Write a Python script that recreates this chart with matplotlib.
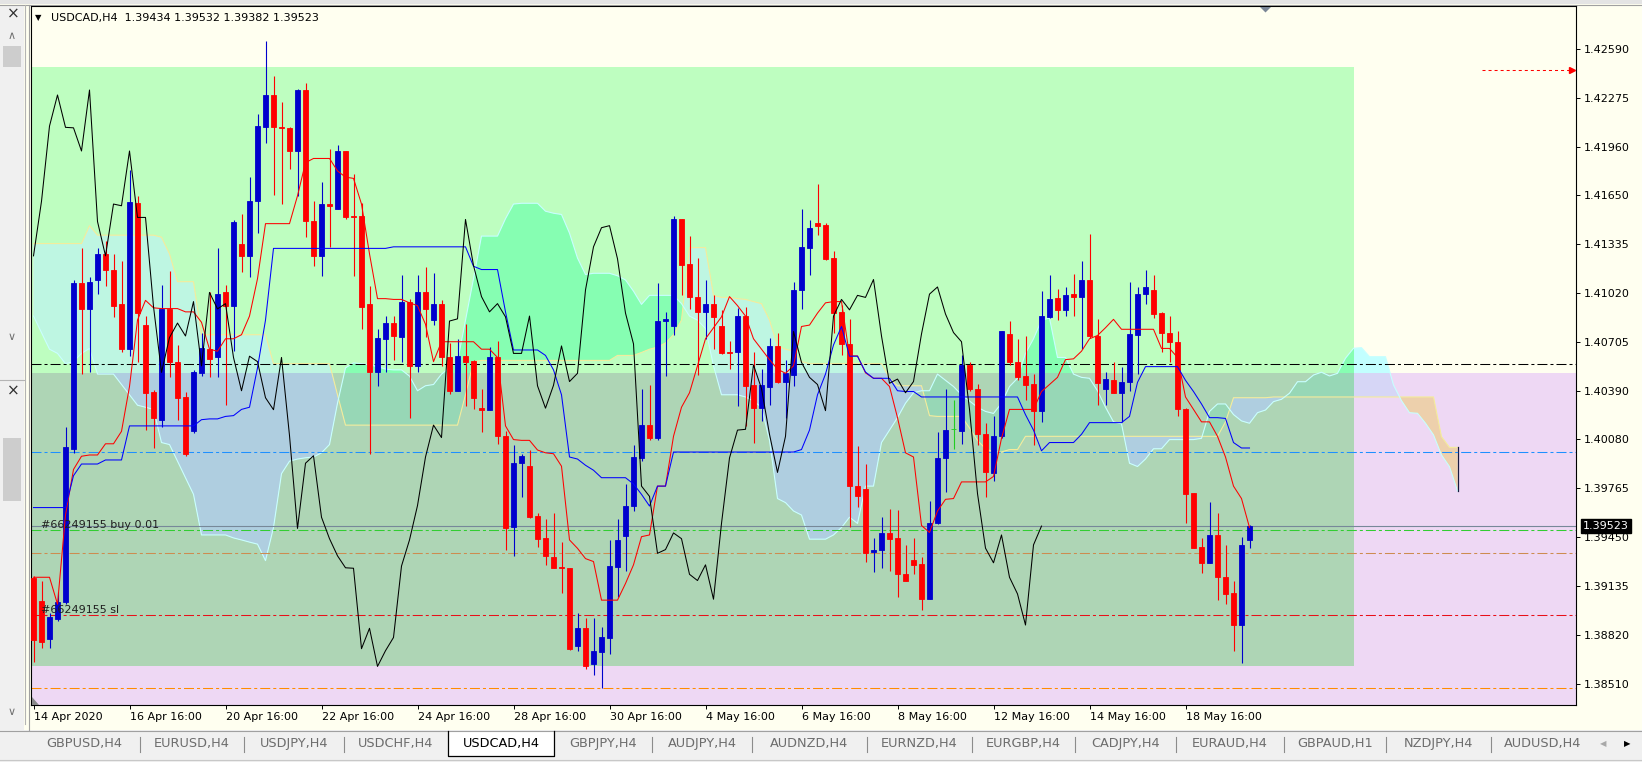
import numpy as np
import matplotlib.pyplot as plt
from matplotlib.patches import Rectangle, Polygon

# ── Data: USDCAD H4, one candle per 4 hours from 14 Apr 2020 16:00 ──────────
symbol = "USDCAD,H4"

opens = [
    1.39190, 1.39040, 1.38799, 1.38927, 1.39034, 1.40020, 1.41086, 1.40921, 1.41108, 1.41273,
    1.41172, 1.40948, 1.40660, 1.41598, 1.40814, 1.40385, 1.40207, 1.40921, 1.40580, 1.40353,
    1.40132, 1.40508, 1.40660, 1.40607, 1.41025, 1.40935, 1.41339, 1.41260, 1.41611, 1.42091,
    1.42294, 1.42091, 1.42080, 1.41934, 1.42326, 1.41481, 1.41260, 1.41593, 1.41561, 1.41934,
    1.41515, 1.41515, 1.40953, 1.40511, 1.40727, 1.40828, 1.40740, 1.40966, 1.40553, 1.41025,
    1.40847, 1.40953, 1.40607, 1.40393, 1.40615, 1.40585, 1.40281, 1.40271, 1.40607, 1.40105,
    1.39514, 1.39927, 1.39908, 1.39588, 1.39447, 1.39327, 1.39260, 1.39252, 1.38754, 1.38866,
    1.38634, 1.38714, 1.38802, 1.39260, 1.39460, 1.39655, 1.39962, 1.40172, 1.40087, 1.40839,
    1.40806, 1.41494, 1.41206, 1.40998, 1.40900, 1.40953, 1.40812, 1.40644, 1.40639, 1.40873,
    1.40428, 1.40281, 1.40420, 1.40681, 1.40452, 1.40495, 1.41038, 1.41313, 1.41473, 1.41459,
    1.41246, 1.40900, 1.40694, 1.39780, 1.39762, 1.39354, 1.39367, 1.39479, 1.39447, 1.39215,
    1.39306, 1.39279, 1.39053, 1.39540, 1.39961, 1.40145, 1.40132, 1.40559, 1.40407, 1.40113,
    1.39866, 1.40100, 1.40758, 1.40580, 1.40487, 1.40439, 1.40265, 1.40868, 1.40988, 1.40913,
    1.41012, 1.40993, 1.41108, 1.40748, 1.40401, 1.40465, 1.40380, 1.40452, 1.40753, 1.41012,
    1.41041, 1.40892, 1.40767, 1.40708, 1.40273, 1.39735, 1.39386, 1.39287, 1.39466, 1.39194,
    1.39093, 1.38887, 1.39434,
]
highs = [
    1.39200, 1.39173, 1.38967, 1.39099, 1.40159, 1.41105, 1.41308, 1.41121, 1.41308, 1.41353,
    1.41273, 1.41228, 1.41811, 1.41646, 1.40873, 1.40399, 1.41073, 1.41161, 1.40687, 1.40388,
    1.40527, 1.40767, 1.41028, 1.41308, 1.41073, 1.41491, 1.41526, 1.41766, 1.42171, 1.42640,
    1.42419, 1.42246, 1.42091, 1.42334, 1.42371, 1.41611, 1.41734, 1.41947, 1.41974, 1.41934,
    1.41787, 1.41601, 1.41065, 1.40793, 1.40873, 1.40873, 1.41140, 1.40980, 1.41140, 1.41188,
    1.41153, 1.40974, 1.40700, 1.40726, 1.40820, 1.40588, 1.40407, 1.40673, 1.40713, 1.40132,
    1.40047, 1.39988, 1.40015, 1.39607, 1.39567, 1.39607, 1.39421, 1.39255, 1.38967, 1.38933,
    1.38933, 1.38874, 1.39434, 1.39567, 1.39794, 1.40047, 1.40407, 1.40433, 1.41086, 1.40900,
    1.41513, 1.41494, 1.41387, 1.41246, 1.41108, 1.41006, 1.40913, 1.40713, 1.40926, 1.40932,
    1.40639, 1.40532, 1.40732, 1.40761, 1.40593, 1.41094, 1.41561, 1.41491, 1.41721, 1.41473,
    1.41292, 1.40945, 1.40854, 1.40041, 1.39919, 1.39447, 1.39580, 1.39634, 1.39626, 1.39402,
    1.39447, 1.39322, 1.39687, 1.40127, 1.40407, 1.40332, 1.40625, 1.40580, 1.40439, 1.40185,
    1.40233, 1.40780, 1.40841, 1.40727, 1.40748, 1.40500, 1.41033, 1.41140, 1.41046, 1.41060,
    1.41145, 1.41228, 1.41401, 1.40852, 1.40513, 1.40580, 1.40548, 1.41092, 1.41060, 1.41166,
    1.41140, 1.40900, 1.40873, 1.40780, 1.40281, 1.39735, 1.39447, 1.39679, 1.39607, 1.39402,
    1.39167, 1.39455, 1.39532,
]
lows = [
    1.38650, 1.38741, 1.38741, 1.38914, 1.39021, 1.39994, 1.40500, 1.40511, 1.41014, 1.41065,
    1.40865, 1.40639, 1.40615, 1.40580, 1.40140, 1.40025, 1.40159, 1.40479, 1.40202, 1.39975,
    1.40121, 1.40487, 1.40479, 1.40484, 1.40300, 1.40646, 1.41158, 1.41121, 1.41406, 1.41987,
    1.41651, 1.41593, 1.41819, 1.41646, 1.41380, 1.41193, 1.41132, 1.41318, 1.41561, 1.41499,
    1.41132, 1.40788, 1.39988, 1.40425, 1.40511, 1.40593, 1.40580, 1.40220, 1.40511, 1.40740,
    1.40815, 1.40553, 1.40375, 1.40393, 1.40292, 1.40274, 1.40127, 1.40271, 1.40052, 1.39367,
    1.39333, 1.39708, 1.39575, 1.39389, 1.39274, 1.39255, 1.39093, 1.38727, 1.38722, 1.38607,
    1.38568, 1.38482, 1.38701, 1.39066, 1.39234, 1.39620, 1.39940, 1.40074, 1.40079, 1.40487,
    1.40753, 1.41006, 1.40921, 1.40492, 1.40727, 1.40660, 1.40628, 1.40532, 1.40295, 1.40167,
    1.40060, 1.40201, 1.40300, 1.40441, 1.40220, 1.40425, 1.40921, 1.41134, 1.41393, 1.41233,
    1.40767, 1.40625, 1.39514, 1.39647, 1.39295, 1.39226, 1.39252, 1.39234, 1.39066, 1.39167,
    1.39213, 1.38981, 1.39053, 1.39535, 1.39740, 1.40020, 1.40052, 1.40393, 1.40047, 1.39708,
    1.39812, 1.40087, 1.40559, 1.40460, 1.40335, 1.40047, 1.40193, 1.40860, 1.40847, 1.40873,
    1.40873, 1.40660, 1.40735, 1.40300, 1.40300, 1.40380, 1.40193, 1.40393, 1.40500, 1.40953,
    1.40860, 1.40639, 1.40580, 1.40233, 1.39540, 1.39381, 1.39221, 1.39287, 1.39047, 1.39021,
    1.38722, 1.38640, 1.39382,
]
closes = [
    1.38790, 1.38781, 1.38941, 1.39034, 1.40034, 1.41086, 1.40919, 1.41092, 1.41273, 1.41172,
    1.40940, 1.40660, 1.41606, 1.40892, 1.40377, 1.40215, 1.40921, 1.40575, 1.40348, 1.39988,
    1.40513, 1.40665, 1.40599, 1.41014, 1.40935, 1.41479, 1.41260, 1.41611, 1.42094, 1.42294,
    1.42086, 1.42083, 1.41934, 1.42326, 1.41481, 1.41260, 1.41593, 1.41582, 1.41934, 1.41507,
    1.41507, 1.40934, 1.40511, 1.40735, 1.40828, 1.40745, 1.40966, 1.40553, 1.41025, 1.40919,
    1.40953, 1.40607, 1.40393, 1.40615, 1.40580, 1.40348, 1.40271, 1.40607, 1.40105, 1.39508,
    1.39927, 1.39975, 1.39580, 1.39442, 1.39332, 1.39255, 1.39252, 1.38735, 1.38866, 1.38621,
    1.38722, 1.38807, 1.39266, 1.39434, 1.39655, 1.39967, 1.40172, 1.40092, 1.40841, 1.40855,
    1.41494, 1.41198, 1.40998, 1.40900, 1.40953, 1.40868, 1.40633, 1.40633, 1.40873, 1.40425,
    1.40281, 1.40428, 1.40681, 1.40452, 1.40505, 1.41041, 1.41318, 1.41441, 1.41454, 1.41241,
    1.40892, 1.40694, 1.39780, 1.39714, 1.39348, 1.39372, 1.39479, 1.39442, 1.39213, 1.39173,
    1.39274, 1.39053, 1.39540, 1.39961, 1.40140, 1.40145, 1.40559, 1.40407, 1.40113, 1.39868,
    1.40100, 1.40774, 1.40575, 1.40479, 1.40433, 1.40265, 1.40873, 1.40980, 1.40913, 1.41006,
    1.40993, 1.41108, 1.40745, 1.40441, 1.40468, 1.40380, 1.40452, 1.40758, 1.41014, 1.41060,
    1.40886, 1.40767, 1.40708, 1.40273, 1.39732, 1.39381, 1.39287, 1.39466, 1.39194, 1.39087,
    1.38887, 1.39402, 1.39523,
]

# Ichimoku lines
tenkan = [
    1.39194, 1.39194, 1.39194, 1.39021, 1.39594, 1.39887, 1.39972, 1.39980, 1.39980, 1.40052,
    1.40052, 1.40132, 1.40420, 1.40847, 1.40974, 1.40926, 1.40921, 1.40921, 1.40921, 1.40900,
    1.40900, 1.40833, 1.40660, 1.40647, 1.40727, 1.40727, 1.40753, 1.40873, 1.41113, 1.41467,
    1.41467, 1.41467, 1.41467, 1.41646, 1.41859, 1.41886, 1.41886, 1.41886, 1.41806, 1.41766,
    1.41758, 1.41593, 1.41273, 1.40985, 1.40985, 1.40980, 1.40980, 1.40958, 1.40940, 1.40820,
    1.40580, 1.40708, 1.40708, 1.40708, 1.40708, 1.40708, 1.40660, 1.40660, 1.40607, 1.40167,
    1.40079, 1.40074, 1.40074, 1.40012, 1.39994, 1.39988, 1.39908, 1.39434, 1.39380, 1.39314,
    1.39295, 1.39047, 1.39047, 1.39047, 1.39154, 1.39274, 1.39455, 1.39466, 1.39780, 1.39780,
    1.40100, 1.40287, 1.40380, 1.40553, 1.40727, 1.40798, 1.40868, 1.40998, 1.40940, 1.40873,
    1.40727, 1.40660, 1.40593, 1.40532, 1.40505, 1.40553, 1.40806, 1.40815, 1.40892, 1.40958,
    1.40966, 1.40966, 1.40617, 1.40617, 1.40508, 1.40473, 1.40473, 1.40420, 1.40220, 1.39994,
    1.39967, 1.39527, 1.39482, 1.39620, 1.39695, 1.39700, 1.39807, 1.39807, 1.39807, 1.39807,
    1.39842, 1.40087, 1.40273, 1.40273, 1.40273, 1.40273, 1.40388, 1.40433, 1.40479, 1.40593,
    1.40598, 1.40647, 1.40727, 1.40748, 1.40798, 1.40852, 1.40788, 1.40788, 1.40788, 1.40788,
    1.40788, 1.40665, 1.40665, 1.40607, 1.40353, 1.40273, 1.40193, 1.40193, 1.40100, 1.39967,
    1.39780, 1.39700, 1.39514,
]
kijun = [
    1.39642, 1.39642, 1.39642, 1.39642, 1.39642, 1.39847, 1.39922, 1.39922, 1.39922, 1.39948,
    1.39948, 1.39948, 1.40167, 1.40167, 1.40167, 1.40167, 1.40167, 1.40167, 1.40167, 1.40167,
    1.40167, 1.40207, 1.40212, 1.40212, 1.40228, 1.40233, 1.40273, 1.40287, 1.40540, 1.40847,
    1.41308, 1.41308, 1.41308, 1.41308, 1.41308, 1.41308, 1.41308, 1.41308, 1.41308, 1.41308,
    1.41308, 1.41308, 1.41308, 1.41308, 1.41308, 1.41318, 1.41318, 1.41318, 1.41318, 1.41318,
    1.41318, 1.41318, 1.41318, 1.41318, 1.41318, 1.41193, 1.41172, 1.41172, 1.41172, 1.40900,
    1.40655, 1.40655, 1.40655, 1.40655, 1.40620, 1.40527, 1.40367, 1.39967, 1.39954, 1.39914,
    1.39882, 1.39834, 1.39834, 1.39834, 1.39834, 1.39794, 1.39727, 1.39652, 1.39780, 1.39780,
    1.39999, 1.39999, 1.39999, 1.39999, 1.39999, 1.39999, 1.39999, 1.39999, 1.39999, 1.39999,
    1.39999, 1.39999, 1.39999, 1.39999, 1.39999, 1.39999, 1.40015, 1.40140, 1.40367, 1.40500,
    1.40687, 1.40806, 1.40615, 1.40615, 1.40513, 1.40473, 1.40473, 1.40473, 1.40393, 1.40388,
    1.40388, 1.40353, 1.40353, 1.40353, 1.40353, 1.40353, 1.40353, 1.40353, 1.40353, 1.40353,
    1.40353, 1.40353, 1.40353, 1.40353, 1.40239, 1.40140, 1.40007, 1.40060, 1.40060, 1.40060,
    1.40060, 1.40113, 1.40188, 1.40188, 1.40188, 1.40188, 1.40188, 1.40228, 1.40447, 1.40548,
    1.40548, 1.40548, 1.40548, 1.40548, 1.40460, 1.40388, 1.40308, 1.40220, 1.40220, 1.40215,
    1.40060, 1.40025, 1.40025,
]
# cloud edges, running 26 bars past the last candle
span_a = [
    1.41339, 1.41339, 1.41339, 1.41339, 1.41339, 1.41339, 1.41339, 1.41454, 1.41393, 1.41393,
    1.41393, 1.41393, 1.41393, 1.41393, 1.41393, 1.41393, 1.41380, 1.41273, 1.41094, 1.41094,
    1.41094, 1.40753, 1.40753, 1.40753, 1.40753, 1.40753, 1.40753, 1.40753, 1.40753, 1.40753,
    1.40567, 1.40567, 1.40567, 1.40567, 1.40567, 1.40567, 1.40567, 1.40567, 1.40367, 1.40172,
    1.40172, 1.40172, 1.40172, 1.40172, 1.40172, 1.40172, 1.40172, 1.40172, 1.40172, 1.40172,
    1.40172, 1.40172, 1.40172, 1.40172, 1.40367, 1.40580, 1.40588, 1.40588, 1.40588, 1.40588,
    1.40588, 1.40588, 1.40588, 1.40588, 1.40588, 1.40588, 1.40588, 1.40588, 1.40588, 1.40588,
    1.40588, 1.40588, 1.40588, 1.40620, 1.40620, 1.40620, 1.40639, 1.40660, 1.40673, 1.40700,
    1.40753, 1.40847, 1.41313, 1.41313, 1.41313, 1.41006, 1.40993, 1.40993, 1.40985, 1.40980,
    1.40966, 1.40953, 1.40847, 1.40681, 1.40660, 1.40647, 1.40580, 1.40567, 1.40567, 1.40567,
    1.40567, 1.40567, 1.40567, 1.40567, 1.40567, 1.40567, 1.40567, 1.40473, 1.40425, 1.40425,
    1.40425, 1.40425, 1.40233, 1.40228, 1.40228, 1.40228, 1.40228, 1.40154, 1.40074, 1.40020,
    1.39999, 1.39999, 1.40015, 1.40015, 1.40100, 1.40100, 1.40100, 1.40100, 1.40100, 1.40100,
    1.40100, 1.40100, 1.40100, 1.40100, 1.40100, 1.40100, 1.40100, 1.40100, 1.40100, 1.40100,
    1.40100, 1.40100, 1.40100, 1.40100, 1.40100, 1.40100, 1.40100, 1.40100, 1.40100, 1.40193,
    1.40348, 1.40348, 1.40348, 1.40348, 1.40348, 1.40353, 1.40353, 1.40353, 1.40353, 1.40353,
    1.40353, 1.40353, 1.40353, 1.40353, 1.40353, 1.40353, 1.40353, 1.40353, 1.40353, 1.40353,
    1.40353, 1.40353, 1.40353, 1.40353, 1.40353, 1.40353, 1.40098, 1.40029, 1.40029,
]
span_b = [
    1.40873, 1.40767, 1.40660, 1.40633, 1.40567, 1.40580, 1.40633, 1.40665, 1.40500, 1.40500,
    1.40500, 1.40433, 1.40367, 1.40300, 1.40287, 1.40273, 1.40060, 1.40047, 1.39940, 1.39834,
    1.39727, 1.39466, 1.39466, 1.39466, 1.39466, 1.39447, 1.39434, 1.39420, 1.39407, 1.39301,
    1.39514, 1.39860, 1.39940, 1.39954, 1.39962, 1.39967, 1.39994, 1.40047, 1.40313, 1.40540,
    1.40572, 1.40567, 1.40559, 1.40548, 1.40532, 1.40527, 1.40527, 1.40487, 1.40393, 1.40425,
    1.40433, 1.40500, 1.40540, 1.40580, 1.40847, 1.41113, 1.41387, 1.41387, 1.41387, 1.41499,
    1.41593, 1.41598, 1.41598, 1.41598, 1.41547, 1.41534, 1.41526, 1.41406, 1.41246, 1.41140,
    1.41148, 1.41148, 1.41148, 1.41132, 1.41105, 1.41033, 1.40948, 1.41006, 1.41006, 1.41006,
    1.41006, 1.40953, 1.40873, 1.40847, 1.40793, 1.40553, 1.40367, 1.40367, 1.40367, 1.40353,
    1.40327, 1.40287, 1.40074, 1.39700, 1.39674, 1.39620, 1.39594, 1.39439, 1.39439, 1.39439,
    1.39466, 1.39514, 1.39580, 1.39540, 1.39780, 1.39780, 1.40060, 1.40140, 1.40220, 1.40313,
    1.40380, 1.40393, 1.40393, 1.40500, 1.40460, 1.40420, 1.40367, 1.40327, 1.40287, 1.40260,
    1.40247, 1.40313, 1.40420, 1.40473, 1.40633, 1.40727, 1.40847, 1.40860, 1.40607, 1.40607,
    1.40500, 1.40479, 1.40473, 1.40393, 1.40287, 1.40193, 1.40180, 1.39927, 1.39906, 1.39954,
    1.40020, 1.40020, 1.40079, 1.40079, 1.40079, 1.40079, 1.40087, 1.40260, 1.40308, 1.40308,
    1.40240, 1.40199, 1.40184, 1.40252, 1.40269, 1.40323, 1.40338, 1.40377, 1.40451, 1.40451,
    1.40494, 1.40512, 1.40488, 1.40505, 1.40602, 1.40666, 1.40670, 1.40612, 1.40612, 1.40612,
    1.40430, 1.40329, 1.40252, 1.40248, 1.40184, 1.40109, 1.39980, 1.39905, 1.39749,
]

date_bars = [0, 12, 24, 36, 48, 60, 72, 84, 96, 108, 120, 132, 144]
date_labels = ["14 Apr 2020", "16 Apr 16:00", "20 Apr 16:00", "22 Apr 16:00",
               "24 Apr 16:00", "28 Apr 16:00", "30 Apr 16:00", "4 May 16:00",
               "6 May 16:00", "8 May 16:00", "12 May 16:00", "14 May 16:00",
               "18 May 16:00"]
price_ticks = [1.42590, 1.42275, 1.41960, 1.41650, 1.41335, 1.41020, 1.40705,
               1.40390, 1.40080, 1.39765, 1.39450, 1.39135, 1.38820, 1.38510]

# drawn objects on the chart
green_box_right = 165.06          # bar index of the rectangle's right side
green_box_top = 1.42474
green_box_bottom = 1.38624
pink_box_top = 1.40507
levels = [(1.40565, "#000000"), (1.39997, "#1E90FF"),
          (1.39348, "#CD8C50"), (1.38480, "#FF8C00")]
order_id = "#66249155"
order_open = 1.39496
order_sl = 1.38949
alert_price = 1.42455
alert_bars = [181.0, 192.3]

tabs = ["GBPUSD,H4", "EURUSD,H4", "USDJPY,H4", "USDCHF,H4", "USDCAD,H4",
        "GBPJPY,H4", "AUDJPY,H4", "AUDNZD,H4", "EURNZD,H4", "EURGBP,H4",
        "CADJPY,H4", "EURAUD,H4", "GBPAUD,H1", "NZDJPY,H4", "AUDUSD,H4"]
active_tab = "USDCAD,H4"

# ── Figure / window layout (pixels) ───────────────────────────────────────────
plt.rcParams["font.family"] = ["DejaVu Sans"]
W, H = 1642, 762
fig = plt.figure(figsize=(W / 100, H / 100), dpi=100)
fig.patch.set_facecolor("#FFFFF0")

PL, PT, PR, PB = 31, 6, 1576, 705      # plot frame
BAR_PX, BAR0_PX = 8, 33.5               # bar spacing, first bar centre

ax = fig.add_axes([PL / W, 1 - PB / H, (PR - PL) / W, (PB - PT) / H])
ax.set_zorder(2)
xlo = (PL - BAR0_PX) / BAR_PX
xhi = (PR - BAR0_PX) / BAR_PX
ax.set_xlim(xlo, xhi)
ax.set_ylim(1.38373, 1.42866)
ax.set_facecolor("#FFFFF0")

GREEN, PINK, OVERLAP = "#BEFEC0", "#EED8F4", "#AED5B5"
ax.add_patch(Rectangle((xlo - 5, 1.37), xhi - xlo + 10, pink_box_top - 1.37,
                       fc=PINK, ec="none", zorder=0.2))
ax.add_patch(Rectangle((xlo - 5, green_box_bottom), green_box_right - xlo + 5,
                       green_box_top - green_box_bottom, fc=GREEN, ec="none", zorder=0.3))
ax.add_patch(Rectangle((xlo - 5, green_box_bottom), green_box_right - xlo + 5,
                       pink_box_top - green_box_bottom, fc=OVERLAP, ec="none", zorder=0.4))

# ── Ichimoku cloud, coloured by what lies under it ───────────────────────────
a = np.array(span_a)
b = np.array(span_b)
xs = np.arange(len(a))
gx = green_box_right
zones = [
    (None, "#FFF0D8", "#C2FFFF"),
    ([(xlo - 5, pink_box_top, gx, green_box_top)], "#BEF6E2", "#86FEB2"),
    ([(xlo - 5, green_box_bottom, gx, pink_box_top)], "#AFCEE0", "#97D7B6"),
    ([(gx, 1.37, xhi + 5, pink_box_top), (xlo - 5, 1.37, gx, green_box_bottom)],
     "#EDD0AC", "#D6D6F6"),
]
for boxes, c_down, c_up in zones:
    for box in (boxes or [None]):
        for mask, col in ((a >= b, c_down), (b > a, c_up)):
            poly = ax.fill_between(xs, a, b, where=mask, interpolate=True,
                                   color=col, lw=0, zorder=1)
            if box is not None:
                x0, y0, x1, y1 = box
                poly.set_clip_path(Rectangle((x0, y0), x1 - x0, y1 - y0,
                                             transform=ax.transData))
ax.plot(xs, a, color="#F4EC9C", lw=0.8, zorder=1.5)
ax.plot(xs, b, color="#C8FFFF", lw=0.8, zorder=1.5)
ax.plot([xs[-1], xs[-1]], [a[-1], b[-1]], color="#1A1A40", lw=0.9, zorder=1.5)

# ── Horizontal levels ─────────────────────────────────────────────────────────
DASHDOT = (0, (9.6, 2.9, 2.9, 2.9))
for price, col in levels:
    ax.axhline(price, color=col, lw=0.75, ls=DASHDOT, zorder=2)
ax.axhline(order_open, color="#32CD32", lw=0.75, ls=DASHDOT, zorder=2)
ax.axhline(order_sl, color="#E8101A", lw=0.75, ls=DASHDOT, zorder=2)
ax.axhline(closes[-1], color="#778899", lw=0.8, zorder=2.1)

# ── Candles ───────────────────────────────────────────────────────────────────
o = np.array(opens)
hi = np.array(highs)
lo = np.array(lows)
c = np.array(closes)
x = np.arange(len(c))
cols = np.where(c > o, "#0000CD", np.where(c < o, "#FF0000", "#22CC22"))
ax.vlines(x, lo, hi, colors=cols, lw=0.8, zorder=3)
ax.bar(x, np.abs(c - o), bottom=np.minimum(o, c), width=0.56,
       color=cols, edgecolor=cols, lw=0.6, zorder=3.1)

# ── Tenkan / Kijun / Chikou ───────────────────────────────────────────────────
ax.plot(x, tenkan, color="#FF0000", lw=0.75, zorder=4)
ax.plot(x, kijun, color="#0000FF", lw=0.75, zorder=4)
chikou = c[26:]
ax.plot(np.arange(len(chikou)), chikou, color="black", lw=0.75, zorder=4)

# price alert arrow top right
ax.plot(alert_bars, [alert_price, alert_price], color="red", lw=0.75,
        ls=(0, (2.9, 2.9)), zorder=4)
ax.plot(alert_bars[1], alert_price, marker=">", ms=5, color="red", zorder=4,
        clip_on=False)

ax.text(0.95, order_open, f"{order_id} buy 0.01", fontsize=8, color="#202020",
        va="bottom", ha="left", zorder=5)
ax.text(0.95, order_sl, f"{order_id} sl", fontsize=8, color="#202020",
        va="bottom", ha="left", zorder=5)

# ── Axes ──────────────────────────────────────────────────────────────────────
ax.set_xticks(date_bars)
ax.set_xticklabels(date_labels, ha="left", fontsize=8)
ax.yaxis.tick_right()
ax.set_yticks(price_ticks)
ax.set_yticklabels([f"{p:.5f}" for p in price_ticks], fontsize=8)
ax.tick_params(axis="x", length=3, width=0.7, pad=2)
ax.tick_params(axis="y", length=3, width=0.7, pad=2.5)
for s in ax.spines.values():
    s.set_linewidth(0.8)

ax.annotate(f"{closes[-1]:.5f}", xy=(1, closes[-1]),
            xycoords=("axes fraction", "data"), xytext=(7, 0),
            textcoords="offset pixels", va="center", ha="left", fontsize=8,
            color="white", annotation_clip=False, zorder=10,
            bbox=dict(boxstyle="square,pad=0.18", fc="black", ec="black"))

# ── Terminal chrome ───────────────────────────────────────────────────────────
bg = fig.add_axes([0, 0, 1, 1])
bg.set_zorder(0)
bg.set_xlim(0, W)
bg.set_ylim(H, 0)
bg.axis("off")

bg.add_patch(Rectangle((0, 0), W, 4, fc="#E4E4E4", ec="none"))
bg.plot([0, W], [4.5, 4.5], color="#A0A0A0", lw=0.8)
bg.add_patch(Rectangle((0, 4.5), 24, 726, fc="#F0F0F0", ec="none"))
bg.plot([24.5, 24.5], [4.5, 724], color="#B4B4B4", lw=0.8)
bg.plot([28.5, 28.5], [4.5, 730], color="#A0A0A0", lw=0.8)
for yy in (14, 391):
    bg.text(13, yy, "×", ha="center", va="center", fontsize=11, color="#303030")
bg.text(12, 36, "∧", ha="center", va="center", fontsize=8, color="#707070")
for yy in (337, 712):
    bg.text(12, yy, "∨", ha="center", va="center", fontsize=8, color="#707070")
bg.add_patch(Rectangle((3, 46), 18, 21, fc="#CDCDCD", ec="none"))
bg.add_patch(Rectangle((3, 438), 18, 63, fc="#CDCDCD", ec="none"))
bg.plot([0, 24], [380, 380], color="#B4B4B4", lw=0.8)

# tab bar
bg.add_patch(Rectangle((0, 730), W, 32, fc="#F0F0F0", ec="none"))
bg.plot([0, W], [730.5, 730.5], color="#A0A0A0", lw=0.8)
bg.plot([0, W], [759.5, 759.5], color="#C8C8C8", lw=0.8)
tab_edges = [29, 140, 244, 344, 448, 554, 652, 752, 867, 972, 1075, 1176,
             1284, 1386, 1491, 1595]
for name, left, right in zip(tabs, tab_edges[:-1], tab_edges[1:]):
    if name == active_tab:
        bg.add_patch(Rectangle((left, 731), right - left, 25, fc="white", ec="none"))
        bg.plot([left, left, right, right], [731, 756, 756, 731], color="black", lw=0.9)
    bg.text((left + right) / 2, 744, name, ha="center", va="center", fontsize=9.3,
            color="black" if name == active_tab else "#6D6D6D")
for xsep in tab_edges[1:-1]:
    if xsep not in (448, 554):
        bg.plot([xsep, xsep], [737, 752], color="#8C8C8C", lw=0.8)
bg.text(1603, 744, "◀", ha="center", va="center", fontsize=6, color="#A8A8A8")
bg.text(1627, 744, "▶", ha="center", va="center", fontsize=6, color="black")

# overlay: chart title and small markers
ov = fig.add_axes([0, 0, 1, 1])
ov.set_zorder(5)
ov.set_xlim(0, W)
ov.set_ylim(H, 0)
ov.axis("off")
ov.text(38.5, 17.5, "▼", ha="center", va="center", fontsize=6, color="black")
ov.text(51, 17.5, f"{symbol}  {opens[-1]:.5f} {highs[-1]:.5f} "
        f"{lows[-1]:.5f} {closes[-1]:.5f}", ha="left", va="center", fontsize=8)
ov.add_patch(Polygon([(1260, 7), (1271, 7), (1265.5, 12.5)], fc="#7A8696", ec="none"))
ov.add_patch(Polygon([(32, 697), (32, 704.5), (39, 704.5)], fc="#8A8A8A", ec="none"))

fig.savefig("out.png", dpi=100, facecolor=fig.get_facecolor())
